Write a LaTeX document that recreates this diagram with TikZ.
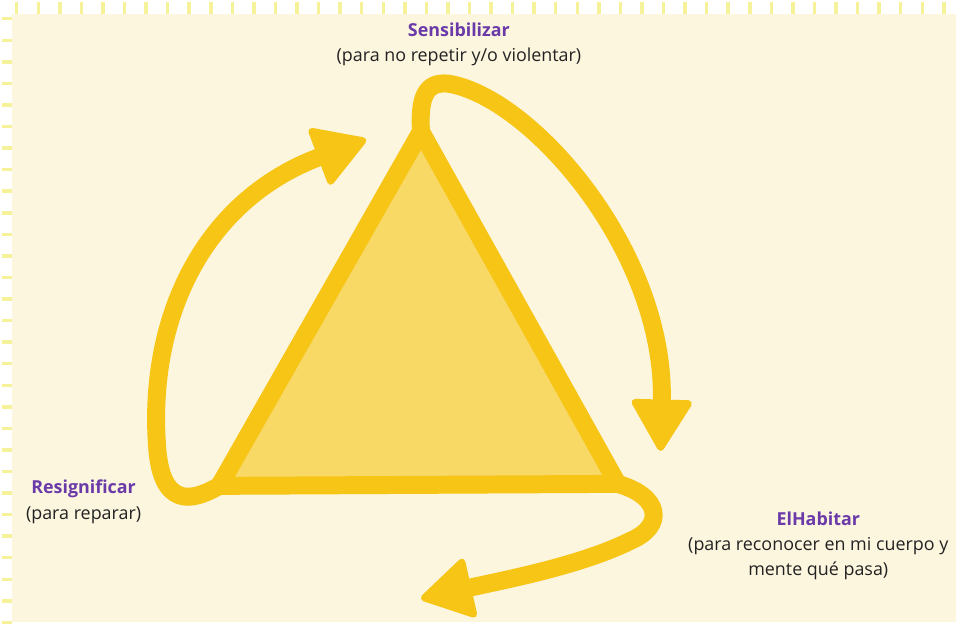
\documentclass[tikz,border=0pt]{standalone}
\usepackage{fontspec}
\setmainfont{Open Sans}
\usepackage{xcolor}
\usepackage{tikz}
\usetikzlibrary{arrows.meta}

\definecolor{paper}{HTML}{FDF6DF}
\definecolor{gridline}{HTML}{F5F29A}
\definecolor{gold}{HTML}{F6C516}
\definecolor{goldfill}{HTML}{F9D966}
\definecolor{violet}{HTML}{6A3AA8}
\definecolor{ink}{HTML}{222222}

\begin{document}
\begin{tikzpicture}[
    x=0.02cm, y=-0.02cm,
    cycle/.style={draw=gold, line width=0.36cm, line cap=round,
      -{Triangle[width=1.28cm, length=1.1cm, round, line width=4pt]}},
    label/.style={align=center, text=ink, inner sep=0pt,
      font=\fontsize{10.2}{14.4}\selectfont}
]
% paper and grid
\fill[white] (0,0) rectangle (956,621);
\foreach \k in {0,...,43}
  \draw[gridline, line width=0.07cm] ({15+21.6*\k},0) -- ({15+21.6*\k},12);
\foreach \k in {0,...,28}
  \draw[gridline, line width=0.07cm] (0,{17+21.6*\k}) -- (10,{17+21.6*\k});
\fill[paper] (10,12) rectangle (956,621);
\useasboundingbox (0,0) rectangle (956,621);

% triangle
\coordinate (top) at (420,130);
\coordinate (bl) at (218,485);
\coordinate (br) at (617,483);
\filldraw[fill=goldfill, draw=gold, line width=0.36cm, line join=round]
  (top) -- (br) -- (bl) -- cycle;

% arrow ends
\coordinate (endright) at (660,450);
\coordinate (endbottom) at (420,598);
\coordinate (endleft) at (365,138);

\draw[cycle] (top) .. controls (418,95) and (425,80) .. (447,82)
  .. controls (530,95) and (665,250) .. (endright);
\draw[cycle] (br) .. controls (660,495) and (665,525) .. (630,540)
  .. controls (580,565) and (500,580) .. (endbottom);
\draw[cycle] (bl) .. controls (200,495) and (162,515) .. (156,450)
  .. controls (145,320) and (200,200) .. (endleft);

% labels
\node[label] (sens) at (458,43)
  {{\color{violet}\bfseries Sensibilizar}\\(para no repetir y/o violentar)};
\node[label] (resig) at (82,501)
  {{\color{violet}\bfseries Resignificar}\\(para reparar)};
\node[label] (habitar) at (818,545)
  {{\color{violet}\bfseries ElHabitar}\\(para reconocer en mi cuerpo y\\mente qué pasa)};
\end{tikzpicture}
\end{document}
